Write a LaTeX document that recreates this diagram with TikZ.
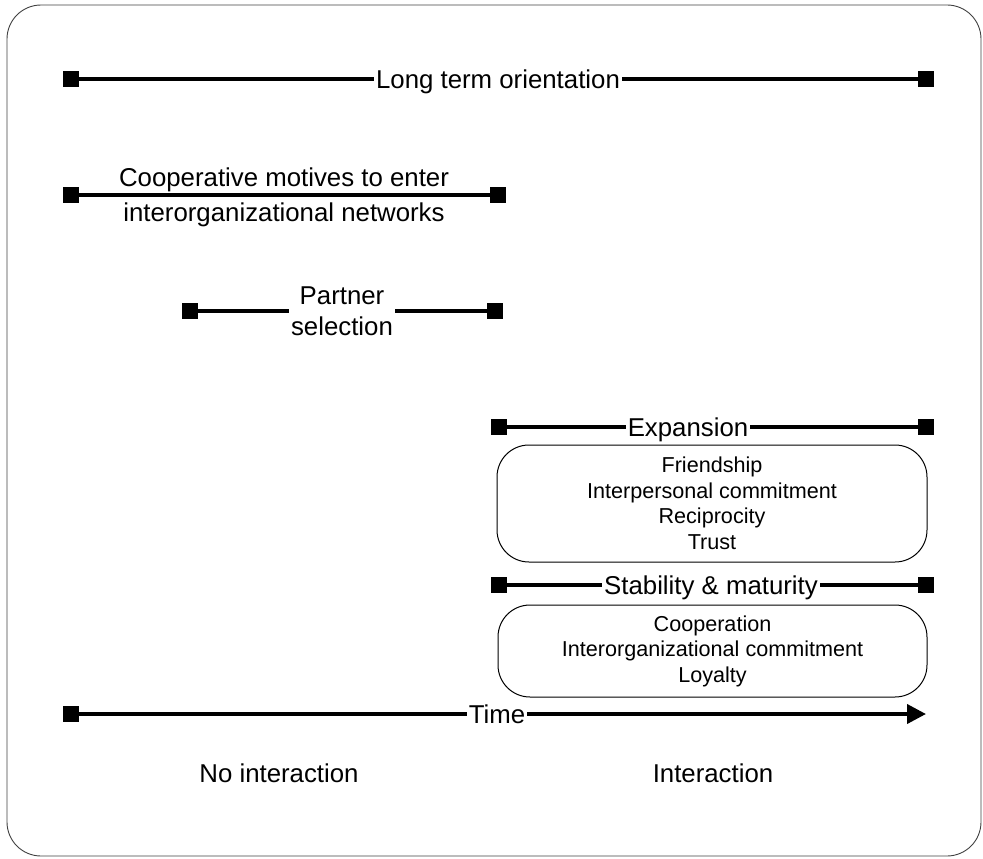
\documentclass[tikz,border=0pt]{standalone}
\usepackage{fontspec}
\setmainfont{Liberation Sans}
\usetikzlibrary{arrows.meta}
\begin{document}
\begin{tikzpicture}[x=1pt,y=-1pt,
  endsq/.style={rectangle,fill=black,minimum size=15.5pt,inner sep=0pt},
  bar/.style={line width=4pt},
  lbl/.style={font=\fontsize{25.8}{31}\selectfont,inner sep=2pt,text height=18.5pt,text depth=0pt},
  mlbl/.style={font=\fontsize{25.8}{31}\selectfont,inner sep=2pt,align=center},
  plaintxt/.style={font=\fontsize{25.8}{31}\selectfont,inner sep=0pt},
  listbox/.style={draw,line width=1pt,rounded corners=32pt,align=center,font=\fontsize{21.6}{25.5}\selectfont,inner sep=0pt}
]
\useasboundingbox (0,0) rectangle (983,859);
\draw[black!75,line width=0.9pt,rounded corners=34pt] (7,5) rectangle (981,856);

% Long term orientation
\node[endsq] (lt1) at (71,79) {};
\node[endsq] (lt2) at (926,79) {};
\node[lbl] (ltl) at (498,79) {Long term orientation};
\draw[bar] (lt1) -- (lt1 -| ltl.west);
\draw[bar] (lt1 -| ltl.east) -- (lt2);

% Cooperative motives
\node[endsq] (cm1) at (71,195) {};
\node[endsq] (cm2) at (498,195) {};
\draw[bar] (cm1) -- (cm2);
\node[mlbl,font=\fontsize{25.8}{34.5}\selectfont] (cml) at (284,197.5) {Cooperative motives to enter\\interorganizational networks};

% Partner selection
\node[endsq] (ps1) at (190,311) {};
\node[endsq] (ps2) at (495,311) {};
\node[mlbl] (psl) at (342,311.5) {Partner\\selection};
\draw[bar] (ps1) -- (ps1 -| psl.west);
\draw[bar] (ps1 -| psl.east) -- (ps2);

% Expansion
\node[endsq] (ex1) at (499,427) {};
\node[endsq] (ex2) at (926,427) {};
\node[lbl] (exl) at (688,427) {Expansion};
\draw[bar] (ex1) -- (ex1 -| exl.west);
\draw[bar] (ex1 -| exl.east) -- (ex2);
\node[listbox,minimum width=430pt,minimum height=117pt] (exb) at (712,503.5)
  {Friendship\\Interpersonal commitment\\Reciprocity\\Trust};

% Stability & maturity
\node[endsq] (st1) at (499,585) {};
\node[endsq] (st2) at (926,585) {};
\node[lbl] (stl) at (711,585) {Stability \& maturity};
\draw[bar] (st1) -- (st1 -| stl.west);
\draw[bar] (st1 -| stl.east) -- (st2);
\node[listbox,minimum width=429pt,minimum height=92pt] (stb) at (712.5,651)
  {Cooperation\\Interorganizational commitment\\Loyalty};

% Time
\node[endsq] (t1) at (71,714) {};
\coordinate (tend) at (926,714);
\node[lbl] (tl) at (497,714) {Time};
\draw[bar] (t1) -- (t1 -| tl.west);
\draw[bar,-{Triangle[length=19pt,width=19pt]}] (t1 -| tl.east) -- (tend);

% Bottom labels
\node[plaintxt] (noi) at (279,773) {No interaction};
\node[plaintxt] (yes) at (713,773) {Interaction};
\end{tikzpicture}
\end{document}
